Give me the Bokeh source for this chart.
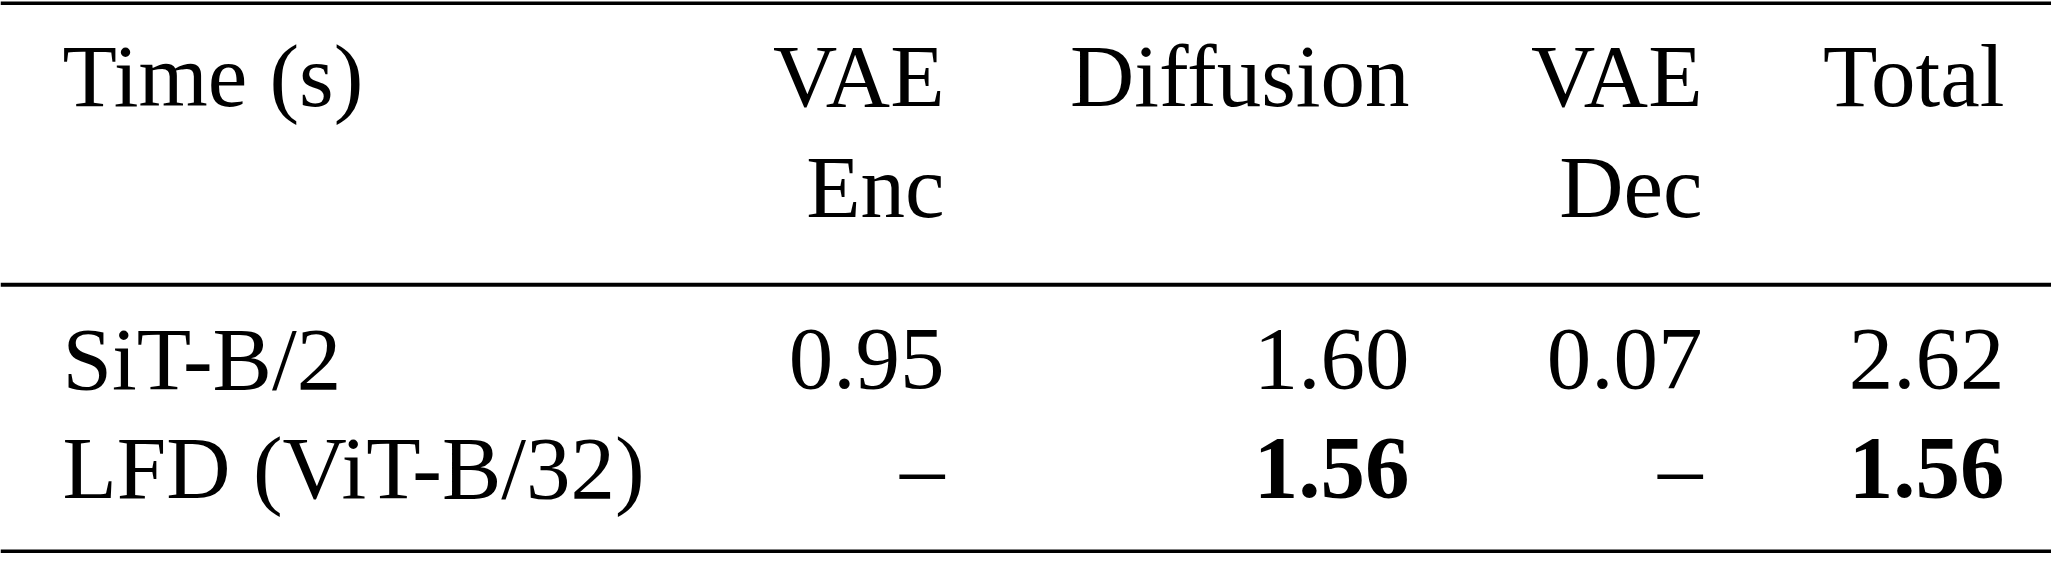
from bokeh.plotting import figure
from bokeh.models import Range1d, ColumnDataSource
from bokeh.core.properties import value
from bokeh.embed import file_html
from bokeh.resources import INLINE

# ---- data ----
corner_label = "Time (s)"
header_line1 = ["VAE", "Diffusion", "VAE", "Total"]
header_line2 = ["Enc", "", "Dec", ""]
models = ["SiT-B/2", "LFD (ViT-B/32)"]
vae_enc = [0.95, None]
diffusion = [1.60, 1.56]
vae_dec = [0.07, None]
total = [2.62, 1.56]

# ---- layout ----
W, H = 2051, 553
FONT = "Liberation Serif"
FS = "89px"
BASE_FIX = -33.5          # compensates Bokeh's baseline placement
left_x = 62
col_right = [944, 1409, 1702, 2004]
hdr_y = [108.5, 219.5]
row_y = [392, 501]
rules = [(2.7, 3.6), (284.3, 4.0), (551, 4.0)]

p = figure(width=W, height=H, output_backend="svg", toolbar_location=None,
           x_range=Range1d(0, W), y_range=Range1d(H, 0),
           min_border=0, min_border_left=0, min_border_right=0,
           min_border_top=0, min_border_bottom=0)
p.axis.visible = False
p.grid.visible = False
p.outline_line_color = None
p.background_fill_color = "white"
p.border_fill_color = "white"

# rules
for y, lw in rules:
    p.segment(x0=[0], y0=[y], x1=[W], y1=[y], line_color="black", line_width=lw)

def txt(xs, ys, texts, align, style="normal"):
    src = ColumnDataSource(dict(x=xs, y=[y + BASE_FIX for y in ys], t=texts))
    p.text(x="x", y="y", text="t", source=src, text_font=value(FONT),
           text_font_size=FS, text_align=align, text_baseline="alphabetic",
           text_color="black", text_font_style=style)

# header
txt([left_x], [hdr_y[0]], [corner_label], "left")
txt(col_right, [hdr_y[0]] * 4, header_line1, "right")
l2x = [x for x, t in zip(col_right, header_line2) if t]
l2t = [t for t in header_line2 if t]
txt(l2x, [hdr_y[1]] * len(l2t), l2t, "right")

# body
txt([left_x] * len(models), row_y, models, "left")
cols = [vae_enc, diffusion, vae_dec, total]
for ci, col in enumerate(cols):
    vals = [v for v in col if v is not None]
    best = min(vals) if len(vals) > 1 else None
    for ri, v in enumerate(col):
        if v is None:
            txt([col_right[ci]], [row_y[ri]], ["\u2013"], "right")
        else:
            style = "bold" if (best is not None and v == best) else "normal"
            txt([col_right[ci]], [row_y[ri]], ["%.2f" % v], "right", style)

open("out.html", "w").write(file_html(p, INLINE))
